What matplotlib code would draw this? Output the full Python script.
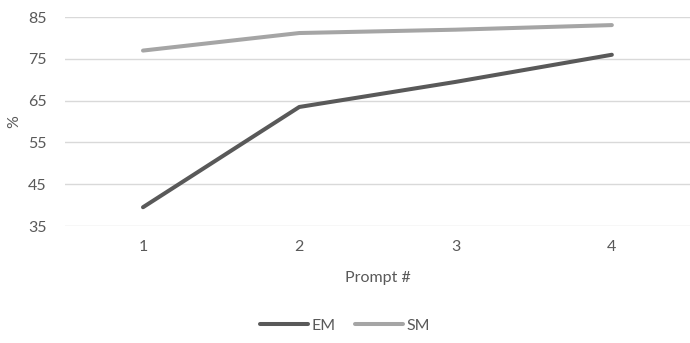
import matplotlib
matplotlib.use("Agg")
import matplotlib.pyplot as plt

plt.rcParams['font.family'] = ['Lato', 'DejaVu Sans']

prompts = [1, 2, 3, 4]
em = [39.5, 63.5, 69.5, 76.0]
sm = [77.0, 81.2, 82.0, 83.1]
y_ticks = [35, 45, 55, 65, 75, 85]

TEXT = '#595959'

fig = plt.figure(figsize=(6.9, 3.43), dpi=100)
ax = fig.add_axes([0.094, 0.341, 0.906, 0.609])

x = list(range(len(prompts)))
ax.plot(x, em, color='#595959', lw=2.9, solid_capstyle='round', label='EM')
ax.plot(x, sm, color='#A5A5A5', lw=2.9, solid_capstyle='round', label='SM')

ax.set_xlim(-0.5, len(prompts) - 0.5)
ax.set_ylim(35, 85)
ax.set_yticks(y_ticks)
ax.set_xticks(x)
ax.set_xticklabels([str(p) for p in prompts])
ax.grid(axis='y', color='#D9D9D9', lw=1)
ax.set_axisbelow(True)
for s in ax.spines.values():
    s.set_visible(False)
ax.tick_params(length=0, labelsize=11.5, colors=TEXT, pad=10)
ax.tick_params(axis='y', pad=13)

ax.set_xlabel('Prompt #', fontsize=11.5, color=TEXT, labelpad=12)
ax.set_ylabel('%', fontsize=11.5, color=TEXT)
ax.yaxis.set_label_coords(-0.07, 0.5)

fig.legend(loc='center', bbox_to_anchor=(0.5, 0.05), ncol=2, frameon=False,
           fontsize=11.5, labelcolor=TEXT, handlelength=3.0, handletextpad=0.2,
           columnspacing=1.2)

fig.savefig('out.png', dpi=100)
